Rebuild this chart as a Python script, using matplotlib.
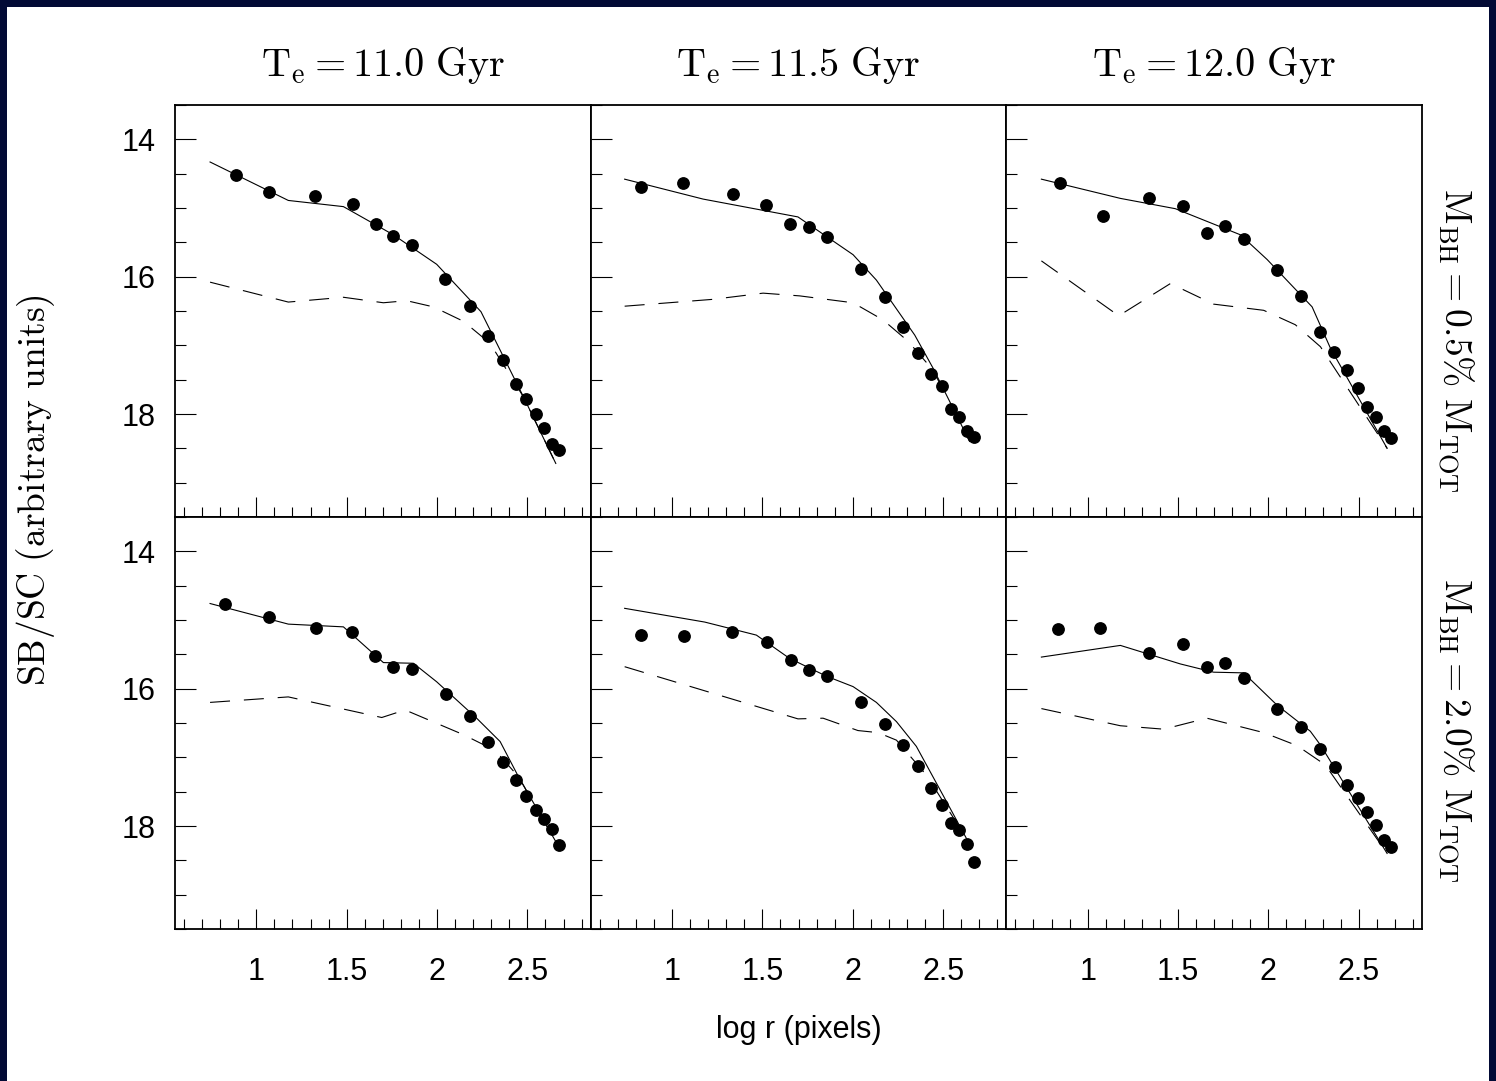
import matplotlib
matplotlib.use("Agg")
import matplotlib.pyplot as plt
from matplotlib.ticker import MultipleLocator
from matplotlib.patches import Rectangle

plt.rcParams['font.family'] = ['Liberation Sans', 'DejaVu Sans']
plt.rcParams['mathtext.fontset'] = 'cm'

ages = ["11.0", "11.5", "12.0"]
bh_fracs = ["0.5", "2.0"]
xticks = [1, 1.5, 2, 2.5]
xtick_labels = ["1", "1.5", "2", "2.5"]
yticks = [14, 16, 18]
ytick_labels = ["14", "16", "18"]

# --- M_BH = 0.5%, Te = 11.0 ---
obs_x_a = [0.886, 1.068, 1.325, 1.533, 1.661, 1.758, 1.862, 2.046, 2.181, 2.284, 2.363, 2.435, 2.494, 2.546, 2.592, 2.636, 2.673]
obs_y_a = [14.52, 14.77, 14.83, 14.94, 15.23, 15.41, 15.54, 16.03, 16.43, 16.87, 17.22, 17.56, 17.78, 18.00, 18.21, 18.43, 18.52]
mod_x_a = [0.744, 1.177, 1.482, 1.758, 1.998, 2.243, 2.478, 2.657]
mod_y_a = [14.33, 14.89, 14.98, 15.39, 15.82, 16.51, 17.75, 18.72]
nobh_x_a = [0.744, 1.177, 1.482, 1.703, 1.832, 1.980, 2.146, 2.293, 2.478, 2.657]
nobh_y_a = [16.08, 16.37, 16.30, 16.38, 16.35, 16.44, 16.65, 16.97, 17.75, 18.72]

# --- M_BH = 0.5%, Te = 11.5 ---
obs_x_b = [0.830, 1.061, 1.338, 1.522, 1.653, 1.756, 1.858, 2.048, 2.179, 2.280, 2.361, 2.432, 2.492, 2.544, 2.590, 2.634, 2.671]
obs_y_b = [14.69, 14.63, 14.80, 14.96, 15.24, 15.28, 15.42, 15.89, 16.30, 16.73, 17.11, 17.42, 17.59, 17.92, 18.04, 18.25, 18.33]
mod_x_b = [0.738, 1.172, 1.697, 2.002, 2.131, 2.343, 2.444, 2.647]
mod_y_b = [14.58, 14.87, 15.13, 15.68, 16.05, 16.85, 17.33, 18.40]
nobh_x_b = [0.738, 1.227, 1.504, 1.707, 2.002, 2.168, 2.306, 2.444, 2.647]
nobh_y_b = [16.43, 16.33, 16.24, 16.28, 16.38, 16.63, 16.94, 17.36, 18.40]

# --- M_BH = 0.5%, Te = 12.0 ---
obs_x_c = [0.849, 1.083, 1.340, 1.528, 1.661, 1.760, 1.863, 2.048, 2.183, 2.284, 2.365, 2.435, 2.494, 2.546, 2.596, 2.640, 2.677]
obs_y_c = [14.63, 15.12, 14.85, 14.97, 15.36, 15.26, 15.45, 15.90, 16.28, 16.81, 17.10, 17.36, 17.62, 17.90, 18.04, 18.25, 18.35]
mod_x_c = [0.744, 1.181, 1.485, 1.845, 1.993, 2.242, 2.343, 2.657]
mod_y_c = [14.58, 14.86, 15.01, 15.39, 15.75, 16.44, 17.04, 18.50]
nobh_x_c = [0.744, 1.172, 1.458, 1.697, 1.974, 2.149, 2.288, 2.657]
nobh_y_c = [15.77, 16.57, 16.10, 16.40, 16.49, 16.70, 17.02, 18.50]

# --- M_BH = 2.0%, Te = 11.0 ---
obs_x_d = [0.827, 1.070, 1.330, 1.528, 1.655, 1.758, 1.862, 2.048, 2.181, 2.284, 2.363, 2.435, 2.494, 2.546, 2.592, 2.636, 2.673]
obs_y_d = [14.76, 14.95, 15.11, 15.17, 15.52, 15.68, 15.71, 16.08, 16.40, 16.77, 17.07, 17.33, 17.56, 17.77, 17.90, 18.05, 18.27]
mod_x_d = [0.744, 1.177, 1.482, 1.703, 1.869, 1.998, 2.219, 2.349, 2.450, 2.662]
mod_y_d = [14.76, 15.06, 15.10, 15.62, 15.63, 15.90, 16.43, 16.77, 17.28, 18.25]
nobh_x_d = [0.744, 1.177, 1.694, 1.823, 2.146, 2.321, 2.450, 2.662]
nobh_y_d = [16.20, 16.12, 16.42, 16.31, 16.67, 16.90, 17.28, 18.25]

# --- M_BH = 2.0%, Te = 11.5 ---
obs_x_e = [0.830, 1.066, 1.332, 1.526, 1.657, 1.756, 1.856, 2.048, 2.179, 2.280, 2.363, 2.432, 2.492, 2.544, 2.590, 2.634, 2.671]
obs_y_e = [15.22, 15.23, 15.17, 15.32, 15.58, 15.73, 15.82, 16.20, 16.52, 16.82, 17.13, 17.45, 17.69, 17.95, 18.06, 18.26, 18.53]
mod_x_e = [0.738, 1.181, 1.467, 1.651, 1.856, 2.002, 2.131, 2.242, 2.352, 2.518, 2.629]
mod_y_e = [14.83, 15.03, 15.22, 15.56, 15.82, 15.97, 16.20, 16.48, 16.84, 17.64, 18.18]
nobh_x_e = [0.738, 1.697, 1.836, 2.029, 2.140, 2.242, 2.408, 2.629]
nobh_y_e = [15.68, 16.44, 16.43, 16.61, 16.64, 16.75, 17.26, 18.18]

# --- M_BH = 2.0%, Te = 12.0 ---
obs_x_f = [0.834, 1.068, 1.340, 1.526, 1.661, 1.762, 1.863, 2.048, 2.183, 2.284, 2.367, 2.435, 2.494, 2.546, 2.596, 2.640, 2.677]
obs_y_f = [15.13, 15.11, 15.48, 15.35, 15.68, 15.62, 15.85, 16.29, 16.56, 16.88, 17.14, 17.40, 17.59, 17.79, 17.99, 18.21, 18.30]
mod_x_f = [0.744, 1.181, 1.513, 1.697, 1.863, 2.048, 2.232, 2.288, 2.657]
mod_y_f = [15.54, 15.37, 15.64, 15.76, 15.77, 16.24, 16.62, 16.82, 18.40]
nobh_x_f = [0.744, 1.181, 1.421, 1.660, 1.974, 2.159, 2.315, 2.657]
nobh_y_f = [16.29, 16.54, 16.59, 16.43, 16.64, 16.83, 17.11, 18.40]

panels = [
    [(obs_x_a, obs_y_a, mod_x_a, mod_y_a, nobh_x_a, nobh_y_a),
     (obs_x_b, obs_y_b, mod_x_b, mod_y_b, nobh_x_b, nobh_y_b),
     (obs_x_c, obs_y_c, mod_x_c, mod_y_c, nobh_x_c, nobh_y_c)],
    [(obs_x_d, obs_y_d, mod_x_d, mod_y_d, nobh_x_d, nobh_y_d),
     (obs_x_e, obs_y_e, mod_x_e, mod_y_e, nobh_x_e, nobh_y_e),
     (obs_x_f, obs_y_f, mod_x_f, mod_y_f, nobh_x_f, nobh_y_f)],
]

W, H = 1496, 1081
fig = plt.figure(figsize=(W / 100, H / 100), dpi=100)
navy = '#020a35'
fig.patch.set_facecolor(navy)
fig.add_artist(Rectangle((7 / W, 0), (W - 14) / W, (H - 7) / H, transform=fig.transFigure,
                         facecolor='white', edgecolor='none', zorder=-5))

left0, top0 = 175, 105
pw, ph = (1422 - 175) / 3, 412

for i in range(2):
    for j in range(3):
        ox, oy, mx, my, nx, ny = panels[i][j]
        ax = fig.add_axes([(left0 + j * pw) / W, 1 - (top0 + (i + 1) * ph) / H, pw / W, ph / H])
        ax.plot(nx, ny, color='k', lw=0.8, ls=(0, (18, 12.5)))
        ax.plot(mx, my, color='k', lw=0.8)
        ax.plot(ox, oy, 'o', color='k', ms=8.2)
        ax.set_xlim(0.55, 2.85)
        ax.set_ylim(19.5, 13.5)
        ax.set_xticks(xticks, labels=xtick_labels if i == 1 else [])
        ax.set_yticks(yticks, labels=ytick_labels if j == 0 else [])
        ax.xaxis.set_minor_locator(MultipleLocator(0.1))
        ax.yaxis.set_minor_locator(MultipleLocator(0.5))
        ax.tick_params(axis='x', which='major', direction='in', length=14.5, width=0.8, pad=20, labelsize=22)
        ax.tick_params(axis='x', which='minor', direction='in', length=7.3, width=0.8)
        ax.tick_params(axis='y', which='major', direction='in', length=15, width=0.8, pad=14, labelsize=22)
        ax.tick_params(axis='y', which='minor', direction='in', length=8, width=0.8)
        for s in ax.spines.values():
            s.set_linewidth(1.3)

for j, age in enumerate(ages):
    fig.text((left0 + (j + 0.5) * pw) / W, 1 - 76 / H, r'$\mathrm{T_e}=%s\ \mathrm{Gyr}$' % age,
             ha='center', va='baseline', fontsize=29)

for i, frac in enumerate(bh_fracs):
    fig.text(1455 / W, 1 - (340 + i * 390) / H, r'$\mathrm{M_{BH}}=%s\%%\ \mathrm{M_{TOT}}$' % frac,
             ha='center', va='center', rotation=-90, fontsize=27)

fig.text(36 / W, 1 - 490 / H, r'$\mathrm{SB/SC\ (arbitrary\ units)}$',
         ha='center', va='center', rotation=90, fontsize=27)
fig.text((left0 + 1.5 * pw) / W, 1 - 1030 / H, 'log r (pixels)', ha='center', va='center', fontsize=22)

fig.savefig('out.png', dpi=100, facecolor=fig.get_facecolor())
